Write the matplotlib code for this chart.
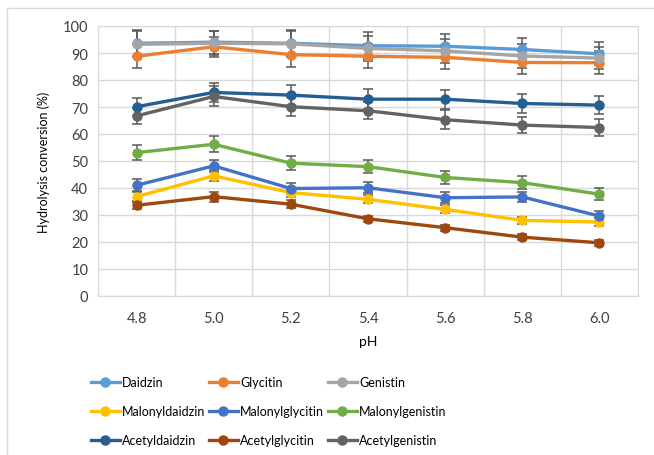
import matplotlib
matplotlib.use("Agg")
import matplotlib.pyplot as plt
from matplotlib.patches import Rectangle

plt.rcParams['font.family'] = ['Lato', 'DejaVu Sans']

# pH values (categorical x axis)
ph = ["4.8", "5.0", "5.2", "5.4", "5.6", "5.8", "6.0"]

# hydrolysis conversion (%)
daidzin = [93.6, 94.0, 93.6, 92.7, 92.5, 91.3, 89.7]
glycitin = [88.8, 92.3, 89.4, 88.8, 88.4, 86.5, 86.4]
genistin = [93.2, 93.6, 93.4, 91.7, 90.8, 88.9, 88.1]
malonyldaidzin = [36.8, 44.5, 38.3, 35.8, 32.1, 28.0, 27.4]
malonylglycitin = [41.0, 48.2, 39.8, 40.1, 36.4, 36.7, 29.6]
malonylgenistin = [53.1, 56.2, 49.2, 47.9, 43.9, 42.0, 37.7]
acetyldaidzin = [70.1, 75.4, 74.4, 72.9, 72.9, 71.3, 70.7]
acetylglycitin = [33.6, 36.8, 34.0, 28.6, 25.3, 21.8, 19.7]
acetylgenistin = [66.7, 73.9, 70.1, 68.6, 65.3, 63.3, 62.4]

# error bars (SD)
err_daidzin = [4.8, 4.3, 4.8, 5.0, 4.4, 4.4, 4.2]
err_glycitin = [4.4, 3.8, 4.5, 4.4, 4.4, 4.3, 4.3]
err_genistin = [4.8, 4.4, 4.8, 4.5, 4.5, 4.5, 4.2]
err_malonyldaidzin = [1.6, 2.0, 1.5, 1.5, 1.5, 1.4, 1.5]
err_malonylglycitin = [2.2, 2.2, 2.0, 2.0, 2.0, 2.0, 2.0]
err_malonylgenistin = [2.7, 2.9, 2.5, 2.5, 2.4, 2.3, 2.2]
err_acetyldaidzin = [3.3, 3.6, 3.7, 3.7, 3.5, 3.5, 3.4]
err_acetylglycitin = [1.3, 1.8, 1.4, 1.2, 1.1, 1.0, 1.0]
err_acetylgenistin = [3.0, 3.7, 3.6, 3.2, 3.5, 3.0, 3.1]

names = ["Daidzin", "Glycitin", "Genistin",
         "Malonyldaidzin", "Malonylglycitin", "Malonylgenistin",
         "Acetyldaidzin", "Acetylglycitin", "Acetylgenistin"]
series = [daidzin, glycitin, genistin,
          malonyldaidzin, malonylglycitin, malonylgenistin,
          acetyldaidzin, acetylglycitin, acetylgenistin]
errors = [err_daidzin, err_glycitin, err_genistin,
          err_malonyldaidzin, err_malonylglycitin, err_malonylgenistin,
          err_acetyldaidzin, err_acetylglycitin, err_acetylgenistin]
colors = ["#5B9BD5", "#ED7D31", "#A5A5A5",
          "#FFC000", "#4472C4", "#70AD47",
          "#255E91", "#9E480E", "#636363"]

fig = plt.figure(figsize=(6.54, 4.56), dpi=100)
ax = fig.add_axes([98/654, 1-297/456, 540/654, 270/456])

x = list(range(len(ph)))
handles = []
for vals, err, c, name in zip(series, errors, colors, names):
    ax.errorbar(x, vals, yerr=err, fmt='none', ecolor='#595959',
                elinewidth=1.1, capsize=3.5, capthick=1.1, zorder=3)
    h, = ax.plot(x, vals, '-o', color=c, lw=2.4, ms=6.5, label=name, zorder=4)
    handles.append(h)

ax.set_xlim(-0.5, len(ph) - 0.5)
ax.set_ylim(0, 100)
ax.set_yticks(range(0, 101, 10))
ax.set_xticks(x)
ax.set_xticklabels(ph)
ax.set_xticks([i - 0.5 for i in range(len(ph) + 1)], minor=True)
ax.grid(axis='y', color='#d9d9d9', lw=1)
ax.grid(axis='x', which='minor', color='#d9d9d9', lw=1)
ax.set_axisbelow(True)
for s in ax.spines.values():
    s.set_color('#d9d9d9')
ax.tick_params(which='both', length=0, labelsize=10.5, colors='#404040', pad=7)
ax.tick_params(axis='x', pad=11)
ax.set_ylabel('Hydrolysis conversion (%)', fontsize=9, color='black', labelpad=9)
ax.set_xlabel('pH', fontsize=10, color='black', labelpad=7)

# legend: one legend per column, rows aligned
col_x = [91/654, 209/654, 328/654]
for k in range(3):
    idx = [k, k + 3, k + 6]
    fig.legend([handles[i] for i in idx], [names[i] for i in idx],
               loc='center left', bbox_to_anchor=(col_x[k], 1 - 412/456),
               frameon=False, fontsize=9, handlelength=2.3,
               labelspacing=1.35, handletextpad=0.2,
               borderpad=0, borderaxespad=0)

fig.patches.append(Rectangle((7/654, -0.1), 1.0, 1.1 - 9/456, transform=fig.transFigure,
                             fill=False, edgecolor='#d9d9d9', lw=1))

fig.savefig('out.png', dpi=100)
